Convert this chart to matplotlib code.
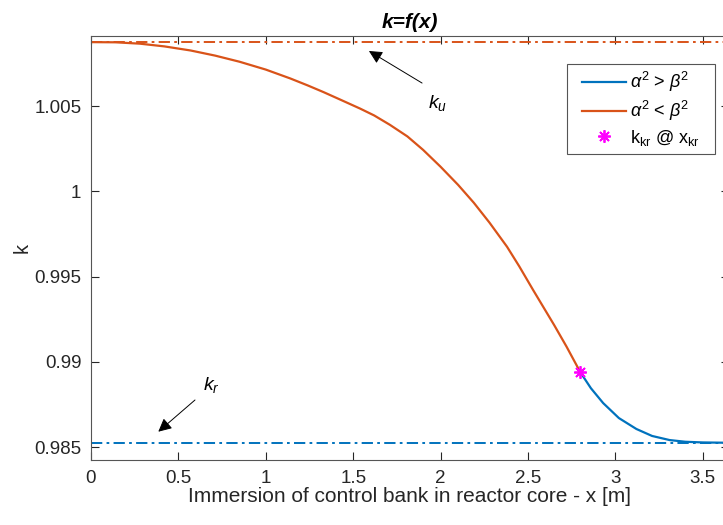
import matplotlib
matplotlib.use("Agg")
import matplotlib.pyplot as plt
from matplotlib.legend_handler import HandlerLine2D

plt.rcParams['font.family'] = ['Liberation Sans', 'DejaVu Sans']
plt.rcParams['mathtext.fontset'] = 'custom'
plt.rcParams['mathtext.rm'] = 'Liberation Sans'
plt.rcParams['mathtext.it'] = 'Liberation Sans:italic'
plt.rcParams['mathtext.bf'] = 'Liberation Sans:bold'

# ---- data ----
k_u = 1.00875
k_r = 0.98525
x_kr = 2.80
k_kr = 0.98938

x_sub = [0.0, 0.14, 0.28, 0.42, 0.57, 0.71, 0.85, 1.00, 1.14, 1.24, 1.33,
         1.43, 1.54, 1.62, 1.71, 1.81, 1.90, 2.00, 2.10, 2.19, 2.28, 2.38,
         2.45, 2.53, 2.65, 2.72, 2.80]
k_sub = [1.00875, 1.00874, 1.00866, 1.00850, 1.00826, 1.00796, 1.00760,
         1.00714, 1.00662, 1.00621, 1.00582, 1.00536, 1.00485, 1.00445,
         1.00390, 1.00322, 1.00243, 1.00144, 1.00038, 0.99933, 0.99816,
         0.99675, 0.99560, 0.99420, 0.99215, 0.99090, 0.98938]
x_sup = [2.80, 2.86, 2.93, 3.02, 3.12, 3.21, 3.31, 3.40, 3.50, 3.65]
k_sup = [0.98938, 0.98845, 0.98758, 0.98670, 0.98606, 0.98565, 0.98541,
         0.98531, 0.98527, 0.98525]

xlim = (0, 3.65)
ylim = (0.98424, 1.00911)
xticks = [0, 0.5, 1, 1.5, 2, 2.5, 3, 3.5]
xticklabels = ['0', '0.5', '1', '1.5', '2', '2.5', '3', '3.5']
yticks = [0.985, 0.99, 0.995, 1.0, 1.005]
yticklabels = ['0.985', '0.99', '0.995', '1', '1.005']

BLUE = '#0072BD'
ORANGE = '#D95319'

fig = plt.figure(figsize=(7.23, 5.25), dpi=100)
W, H = 723, 525
ax = fig.add_axes([91 / W, (H - 460) / H, 638 / W, 424 / H])

l1, = ax.plot(x_sup, k_sup, color=BLUE, lw=1.6, label=r'$\alpha^2$ > $\beta^2$')
l2, = ax.plot(x_sub, k_sub, color=ORANGE, lw=1.6, label=r'$\alpha^2$ < $\beta^2$')
l3, = ax.plot([x_kr], [k_kr], linestyle='none', marker=(8, 2, 0), ms=9,
              mew=1.3, color='#FF00FF', label=r'k$_{\rm kr}$ @ x$_{\rm kr}$')

dash = (5.8, 2.2, 1.4, 2.2)
lu, = ax.plot(xlim, [k_u, k_u], color=ORANGE, lw=1.4)
lu.set_dashes(dash)
lr, = ax.plot(xlim, [k_r, k_r], color=BLUE, lw=1.4)
lr.set_dashes(dash)

# annotations
ax.annotate('', xy=(1.590, 1.00823), xytext=(1.894, 1.00635),
            arrowprops=dict(arrowstyle='-|>', color='black', lw=0.7,
                            mutation_scale=20, shrinkA=0, shrinkB=0))
ax.text(1.985, 1.00518, r'$k_u$', fontsize=14, ha='center', va='center')
ax.annotate('', xy=(0.385, 0.98590), xytext=(0.595, 0.98776),
            arrowprops=dict(arrowstyle='-|>', color='black', lw=0.7,
                            mutation_scale=20, shrinkA=0, shrinkB=0))
ax.text(0.686, 0.98864, r'$k_r$', fontsize=14, ha='center', va='center')

ax.set_xlim(*xlim)
ax.set_ylim(*ylim)
ax.set_xticks(xticks)
ax.set_xticklabels(xticklabels)
ax.set_yticks(yticks)
ax.set_yticklabels(yticklabels)
ax.tick_params(direction='in', top=True, right=True, length=6, width=0.8,
               labelsize=13.5, colors='#262626', pad=7)
for s in ax.spines.values():
    s.set_color('#555555')
    s.set_linewidth(0.8)

ax.set_xlabel('Immersion of control bank in reactor core - x [m]',
              fontsize=15, color='#262626', labelpad=0)
ax.set_ylabel('k', fontsize=14.5, color='#262626', labelpad=2)
ax.set_title('k=f(x)', fontsize=15, fontweight='bold', fontstyle='italic',
             pad=6)


class ShiftedLine(HandlerLine2D):
    shift = 6.5  # points

    def create_artists(self, legend, orig_handle, xdescent, ydescent, width,
                       height, fontsize, trans):
        return super().create_artists(legend, orig_handle,
                                      xdescent - self.shift, ydescent,
                                      width - self.shift, height, fontsize,
                                      trans)


leg = ax.legend(handles=[l1, l2, l3], loc='upper left', mode='expand',
                bbox_to_anchor=(0.7461, 0.734, 0.232, 0.2), borderaxespad=0,
                fontsize=13, fancybox=False, edgecolor='#555555',
                framealpha=1, handlelength=2.93, handletextpad=0.22,
                labelspacing=0.25, borderpad=0.35,
                handler_map={l1: ShiftedLine(), l2: ShiftedLine(),
                             l3: ShiftedLine()})
leg.get_frame().set_linewidth(0.8)

fig.savefig('out.png', dpi=100)
